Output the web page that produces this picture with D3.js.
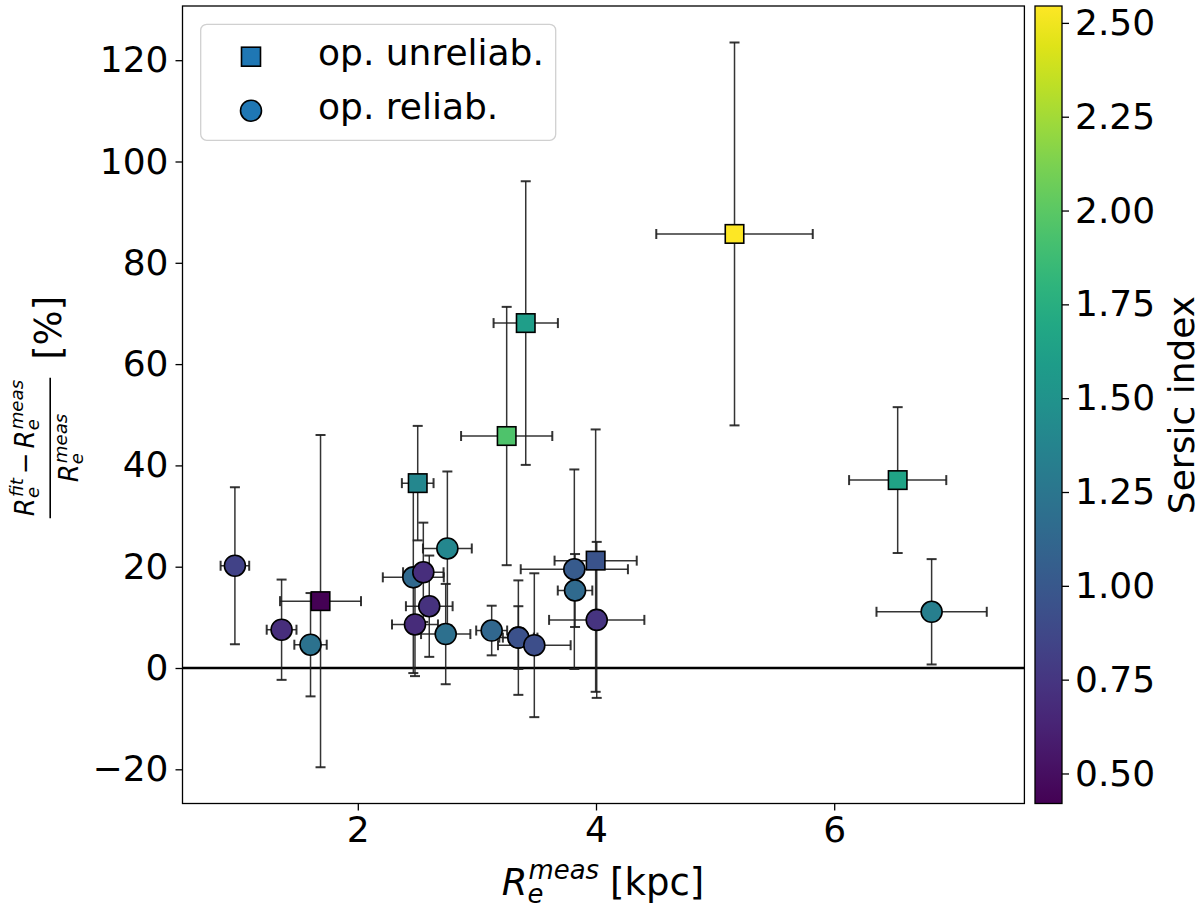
<!DOCTYPE html>
<html><head><meta charset="utf-8">
<script src="https://cdn.jsdelivr.net/npm/d3@7"></script>
<style>body{margin:0;background:#fff} text{font-family:"DejaVu Sans",sans-serif;fill:#000}</style>
</head><body><svg id="c" width="1200" height="906"></svg>
<script>
// ---- data: operationally reliable (circles) ----
const circX    = [0.968, 1.36, 1.603, 2.466, 2.55, 2.60, 2.48, 2.738, 2.752, 3.124, 3.348, 3.348, 3.482, 3.818, 3.824, 4.006, 6.818];
const circY    = [20.2, 7.56, 4.6, 17.9, 18.9, 12.2, 8.6, 6.7, 23.6, 7.4, 6.0, 6.0, 4.5, 19.5, 15.3, 9.5, 11.1];
const circXErr = [0.12, 0.125, 0.136, 0.256, 0.17, 0.196, 0.193, 0.207, 0.205, 0.13, 0.16, 0.13, 0.305, 0.45, 0.145, 0.40, 0.463];
const circYErr = [15.5, 9.9, 10.2, 18.9, 9.8, 10.0, 10.2, 9.9, 15.2, 4.9, 11.3, 6.2, 14.2, 19.7, 7.2, 15.4, 10.4];
const circN    = [0.84, 0.70, 1.22, 1.14, 0.70, 0.72, 0.68, 1.20, 1.40, 1.12, 0.95, 0.95, 0.92, 1.02, 1.15, 0.74, 1.33];
// ---- data: operationally unreliable (squares) ----
const sqX    = [1.687, 2.503, 3.25, 3.41, 3.997, 5.163, 6.533];
const sqY    = [13.2, 36.5, 45.8, 68.1, 21.2, 85.7, 37.1];
const sqXErr = [0.34, 0.133, 0.383, 0.27, 0.345, 0.657, 0.408];
const sqYErr = [32.8, 11.3, 25.5, 28.0, 25.9, 37.8, 14.4];
const sqN    = [0.42, 1.40, 1.95, 1.60, 0.96, 2.54, 1.65];
// ---- ticks ----
const xTicks  = [2, 4, 6];
const yTicks  = [-20, 0, 20, 40, 60, 80, 100, 120];
const cbTicks = [0.50, 0.75, 1.00, 1.25, 1.50, 1.75, 2.00, 2.25, 2.50];
const legendLabels = ["op. unreliab.", "op. reliab."];
const nMin = 0.42, nMax = 2.545;

const svg = d3.select("#c");
const L = 182.5, R = 1024.4, T = 6, B = 803.5;
const x = d3.scaleLinear().domain([0.528, 7.597]).range([L, R]);
const y = d3.scaleLinear().domain([-26.75, 130.7]).range([B, T]);
const cN = d3.scaleLinear().domain([nMin, nMax]).range([0, 1]);
const col = n => d3.interpolateViridis(Math.max(0, Math.min(1, cN(n))));

const TICKFS = 36, LABFS = 37;

// clip
svg.append("clipPath").attr("id","clip").append("rect").attr("x",L).attr("y",T).attr("width",R-L).attr("height",B-T);
const plot = svg.append("g").attr("clip-path","url(#clip)");

// zero line
plot.append("line").attr("x1",L).attr("x2",R).attr("y1",y(0)).attr("y2",y(0)).attr("stroke","#000").attr("stroke-width",2.6);

// error bars
const pts = [];
circX.forEach((v,i)=>pts.push({x:v,y:circY[i],xe:circXErr[i],ye:circYErr[i],n:circN[i],s:"c"}));
sqX.forEach((v,i)=>pts.push({x:v,y:sqY[i],xe:sqXErr[i],ye:sqYErr[i],n:sqN[i],s:"s"}));
const eb = plot.append("g").attr("stroke","#1e1e1e").attr("stroke-opacity",0.9);
const cap = 5;
pts.forEach(p=>{
  const g = eb.append("g");
  g.append("line").attr("x1",x(p.x)).attr("x2",x(p.x)).attr("y1",y(p.y-p.ye)).attr("y2",y(p.y+p.ye)).attr("stroke-width",1.5);
  g.append("line").attr("x1",x(p.x-p.xe)).attr("x2",x(p.x+p.xe)).attr("y1",y(p.y)).attr("y2",y(p.y)).attr("stroke-width",1.5);
  [p.y-p.ye, p.y+p.ye].forEach(v=>g.append("line").attr("x1",x(p.x)-cap).attr("x2",x(p.x)+cap).attr("y1",y(v)).attr("y2",y(v)).attr("stroke-width",2));
  [p.x-p.xe, p.x+p.xe].forEach(v=>g.append("line").attr("x1",x(v)).attr("x2",x(v)).attr("y1",y(p.y)-cap).attr("y2",y(p.y)+cap).attr("stroke-width",2));
});

// markers
const SQ = 18.5, RC = 10.5;
plot.append("g").selectAll("rect").data(pts.filter(p=>p.s==="s")).join("rect")
  .attr("x",p=>x(p.x)-SQ/2).attr("y",p=>y(p.y)-SQ/2).attr("width",SQ).attr("height",SQ)
  .attr("fill",p=>col(p.n)).attr("stroke","#000").attr("stroke-width",1.6);
plot.append("g").selectAll("circle").data(pts.filter(p=>p.s==="c")).join("circle")
  .attr("cx",p=>x(p.x)).attr("cy",p=>y(p.y)).attr("r",RC)
  .attr("fill",p=>col(p.n)).attr("stroke","#000").attr("stroke-width",1.6);

// frame
svg.append("rect").attr("x",L).attr("y",T).attr("width",R-L).attr("height",B-T).attr("fill","none").attr("stroke","#000").attr("stroke-width",1.3);

// axes
const fmt = d3.format("d");
const xa = svg.append("g").attr("transform",`translate(0,${B})`).call(d3.axisBottom(x).tickValues(xTicks).tickSize(7).tickPadding(6).tickFormat(fmt));
const ya = svg.append("g").attr("transform",`translate(${L},0)`).call(d3.axisLeft(y).tickValues(yTicks).tickSize(7).tickPadding(7).tickFormat(fmt));
[xa,ya].forEach(a=>{a.select(".domain").remove(); a.selectAll("line").attr("stroke","#000").attr("stroke-width",1.3);
  a.selectAll("text").attr("font-size",TICKFS).attr("font-family","DejaVu Sans").attr("fill","#000");});

// legend
const lg = svg.append("g");
lg.append("rect").attr("x",200.7).attr("y",24.3).attr("width",355).attr("height",116).attr("rx",6)
  .attr("fill","#fff").attr("fill-opacity",0.8).attr("stroke","#d0d0d0").attr("stroke-width",1.3);
lg.append("rect").attr("x",251-9.5).attr("y",56.7-9.5).attr("width",19).attr("height",19).attr("fill","#1f77b4").attr("stroke","#000").attr("stroke-width",1.6);
lg.append("circle").attr("cx",251).attr("cy",110.7).attr("r",10.5).attr("fill","#1f77b4").attr("stroke","#000").attr("stroke-width",1.6);
legendLabels.forEach((t,i)=>lg.append("text").attr("x",318).attr("y",65+i*54).attr("font-size",TICKFS).text(t));

// colorbar
const cbL = 1035, cbR = 1062;
const cby = d3.scaleLinear().domain([nMin, nMax]).range([B, T]);
const grad = svg.append("defs").append("linearGradient").attr("id","vir").attr("x1",0).attr("y1",1).attr("x2",0).attr("y2",0);
d3.range(0,1.0001,0.05).forEach(t=>grad.append("stop").attr("offset",t).attr("stop-color",d3.interpolateViridis(t)));
svg.append("rect").attr("x",cbL).attr("y",T).attr("width",cbR-cbL).attr("height",B-T).attr("fill","url(#vir)").attr("stroke","#000").attr("stroke-width",1.3);
const ca = svg.append("g").attr("transform",`translate(${cbR},0)`).call(d3.axisRight(cby).tickValues(cbTicks).tickSize(7).tickPadding(6).tickFormat(d3.format(".2f")));
ca.select(".domain").remove(); ca.selectAll("line").attr("stroke","#000").attr("stroke-width",1.3);
ca.selectAll("text").attr("font-size",TICKFS).attr("font-family","DejaVu Sans").attr("fill","#000");
svg.append("text").attr("transform","translate(1194,405) rotate(-90)").attr("text-anchor","middle").attr("font-size",36).text("Sersic index");

// math helper: R_e^{sup}
function mathR(g, x0, y0, fs, sup){
  const r = g.append("text").attr("x",x0).attr("y",y0).attr("font-size",fs).attr("font-style","italic").text("R");
  const w = r.node().getComputedTextLength();
  const ss = fs*0.7;
  const e = g.append("text").attr("x",x0+w).attr("y",y0+fs*0.22).attr("font-size",ss).attr("font-style","italic").text("e");
  const s = g.append("text").attr("x",x0+w+1).attr("y",y0-fs*0.42).attr("font-size",ss).attr("font-style","italic").text(sup);
  return x0 + w + Math.max(e.node().getComputedTextLength(), s.node().getComputedTextLength()+1);
}

// x label
const xl = svg.append("g");
let xe = mathR(xl, 0, 0, LABFS, "meas");
const kpc = xl.append("text").attr("x",xe+LABFS*0.3).attr("y",0).attr("font-size",LABFS).text("[kpc]");
const xlw = xe + LABFS*0.3 + kpc.node().getComputedTextLength();
xl.attr("transform",`translate(${603 - xlw/2},895)`);

// y label (rotated)
const yl = svg.append("g").attr("transform","translate(50.7,448) rotate(-90)");
const num = yl.append("g");
let ne = mathR(num, 0, 0, 26, "fit");
const minus = num.append("text").attr("x",ne+4).attr("y",0).attr("font-size",26).text("\u2212");
ne = mathR(num, ne+4+minus.node().getComputedTextLength()+4, 0, 26, "meas");
num.attr("transform",`translate(${-ne/2},-17)`);
const den = yl.append("g");
const de = mathR(den, 0, 0, 26, "meas");
den.attr("transform",`translate(${-de/2},27)`);
const fw = Math.max(ne, de) + 4;
yl.append("line").attr("x1",-fw/2).attr("x2",fw/2).attr("y1",-0.5).attr("y2",-0.5).attr("stroke","#000").attr("stroke-width",1.6);
yl.append("text").attr("x",fw/2+18).attr("y",10).attr("font-size",LABFS).text("[%]");
</script></body></html>
